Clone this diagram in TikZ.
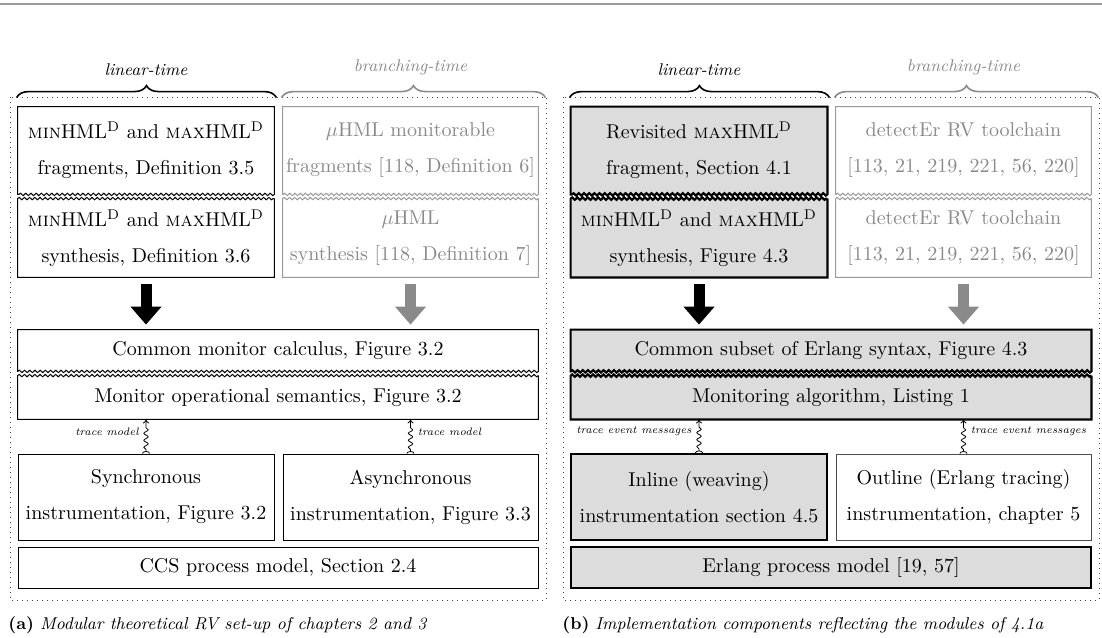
\documentclass[tikz,border=0pt]{standalone}
\usepackage{xcolor}
\usepackage{tikz}
\usetikzlibrary{positioning,arrows.meta,decorations.pathmorphing,decorations.pathreplacing,backgrounds}
\definecolor{RVGrey}{HTML}{8A8A8A}
\definecolor{RVLine}{HTML}{9A9A9A}
\definecolor{RVFill}{HTML}{DCDCDC}

\tikzset{
  mod/.style={align=center,inner sep=0pt,font=\fontsize{10}{18}\selectfont},
  wave/.style={decoration={snake,amplitude=0.6pt,segment length=2.6pt}},
  thinbox/.style={draw=black,line width=0.5pt,fill=white},
  greybox/.style={draw=RVLine,line width=0.5pt,fill=white},
  implbox/.style={draw=black,line width=1.1pt,fill=RVFill},
  greytext/.style={text=RVGrey},
  blockarr/.style={line width=5.5pt,-{Triangle[width=15pt,length=9pt]},shorten <=3.5pt,shorten >=2.5pt},
  squig/.style={decorate,decoration={snake,amplitude=1.1pt,segment length=3.5pt,pre length=2pt,post length=3pt},
    {Arc Barb[reversed,width=4pt,length=1.2pt]}-{To[length=2pt,width=3pt]},line width=0.4pt},
  lbl/.style={font=\fontsize{5.4}{6}\selectfont\itshape,inner sep=0pt},
  head/.style={font=\fontsize{8.5}{10}\selectfont\itshape,inner sep=0pt},
  topbrace/.style={decorate,decoration={brace,amplitude=6pt},line width=0.8pt},
  panelframe/.style={dotted,line width=0.5pt,draw=black!75},
  capt/.style={font=\fontsize{8.6}{10}\selectfont,inner sep=0pt,anchor=base west}
}

\begin{document}
\begin{tikzpicture}[x=0.5pt,y=-0.5pt]
\useasboundingbox (0,0) rectangle (1102,637);
\draw[RVLine,line width=0.8pt] (0,4) -- (1102,4);

% (a) theoretical set-up
\node[mod,minimum width=128pt,minimum height=43.5pt] (fragA) at (146,150.5) {\textsc{min}HML\textsuperscript{D} and \textsc{max}HML\textsuperscript{D}\\fragments, Definition 3.5};
\node[mod,greytext,minimum width=127.5pt,minimum height=43.5pt] (fragB) at (410.5,150.5) {$\mu$HML monitorable\\fragments [118, Definition 6]};
\node[mod,minimum width=128pt,minimum height=39pt] (synA) at (146,238) {\textsc{min}HML\textsuperscript{D} and \textsc{max}HML\textsuperscript{D}\\synthesis, Definition 3.6};
\node[mod,greytext,minimum width=127.5pt,minimum height=39pt] (synB) at (410.5,238) {$\mu$HML\\synthesis [118, Definition 7]};
\node[mod,minimum width=260pt,minimum height=20.5pt] (calc) at (278,350.5) {Common monitor calculus, Figure 3.2};
\node[mod,minimum width=260pt,minimum height=21.5pt] (sem) at (278,397.5) {Monitor operational semantics, Figure 3.2};
\node[mod,thinbox,minimum width=128pt,minimum height=43pt] (sync) at (146,497) {Synchronous\\instrumentation, Figure 3.2};
\node[mod,thinbox,minimum width=127.5pt,minimum height=43pt] (async) at (410.5,497) {Asynchronous\\instrumentation, Figure 3.3};
\node[mod,thinbox,minimum width=260pt,minimum height=20.5pt] (ccs) at (278,567.5) {CCS process model, Section 2.4};

\node[head,above=15.5pt of fragA.north] (linA) {linear-time};
\node[head,text=RVGrey,above=15.5pt of fragB.north] (brA) {branching-time};
\draw[topbrace] ([yshift=4.5pt,xshift=-0.5pt]fragA.north west) -- ([yshift=4.5pt,xshift=1pt]fragA.north east);
\draw[topbrace,RVGrey] ([yshift=4.5pt,xshift=-0.5pt]fragB.north west) -- ([yshift=4.5pt,xshift=3.5pt]fragB.north east);

\draw[blockarr] (synA.south) -- (synA.south |- calc.north);
\draw[blockarr,RVGrey] (synB.south) -- (synB.south |- calc.north);
\draw[squig] (sync.north) -- (sync.north |- sem.south) node[lbl,pos=0.65,left=3.5pt] {trace model};
\draw[squig] (async.north) -- (async.north |- sem.south) node[lbl,pos=0.65,right=3.5pt] {trace model};

\node[capt] (capA) at (8,629) {\textbf{(a)} \textit{Modular theoretical RV set-up of chapters 2 and 3}};

% (b) implementation
\node[mod,minimum width=128pt,minimum height=43.5pt] (revis) at (699,150.5) {Revisited \textsc{max}HML\textsuperscript{D}\\fragment, Section 4.1};
\node[mod,greytext,minimum width=127.5pt,minimum height=43.5pt] (toolA) at (963.5,150.5) {detectEr RV toolchain\\{}[113, 21, 219, 221, 56, 220]};
\node[mod,minimum width=128pt,minimum height=39pt] (synth) at (699,238) {\textsc{min}HML\textsuperscript{D} and \textsc{max}HML\textsuperscript{D}\\synthesis, Figure 4.3};
\node[mod,greytext,minimum width=127.5pt,minimum height=39pt] (toolB) at (963.5,238) {detectEr RV toolchain\\{}[113, 21, 219, 221, 56, 220]};
\node[mod,minimum width=260pt,minimum height=20.5pt] (subset) at (831,350.5) {Common subset of Erlang syntax, Figure 4.3};
\node[mod,minimum width=260pt,minimum height=21.5pt] (algo) at (831,397.5) {Monitoring algorithm, Listing 1};
\node[mod,implbox,minimum width=128pt,minimum height=43pt] (inline) at (699,497) {Inline (weaving)\\instrumentation section 4.5};
\node[mod,thinbox,draw=black!70,minimum width=127.5pt,minimum height=43pt] (outline) at (963.5,497) {Outline (Erlang tracing)\\instrumentation, chapter 5};
\node[mod,implbox,minimum width=260pt,minimum height=20.5pt] (erl) at (831,567.5) {Erlang process model [19, 57]};

\node[head,above=15.5pt of revis.north] (linB) {linear-time};
\node[head,text=RVGrey,above=15.5pt of toolA.north] (brB) {branching-time};
\draw[topbrace] ([yshift=4.5pt,xshift=-0.5pt]revis.north west) -- ([yshift=4.5pt,xshift=1pt]revis.north east);
\draw[topbrace,RVGrey] ([yshift=4.5pt,xshift=-0.5pt]toolA.north west) -- ([yshift=4.5pt,xshift=3.5pt]toolA.north east);

\draw[blockarr] (synth.south) -- (synth.south |- subset.north);
\draw[blockarr,RVGrey] (toolB.south) -- (toolB.south |- subset.north);
\draw[squig] (inline.north) -- (inline.north |- algo.south) node[lbl,pos=0.65,left=3.5pt] {trace event messages};
\draw[squig] (outline.north) -- (outline.north |- algo.south) node[lbl,pos=0.65,right=3.5pt] {trace event messages};

\node[capt] (capB) at (562,629) {\textbf{(b)} \textit{Implementation components reflecting the modules of 4.1a}};

% frames and wavy-edged boxes
\begin{scope}[on background layer]
\draw[panelframe] (10,97) rectangle (546,600);
\draw[panelframe] (563,97) rectangle (1099,600);
\foreach \n/\s in {fragA/thinbox,fragB/greybox,calc/thinbox,revis/implbox,toolA/greybox,subset/implbox}
  \path[\s] (\n.south west) -- (\n.north west) -- (\n.north east) -- (\n.south east) decorate[wave]{-- (\n.south west)} -- cycle;
\foreach \n/\s in {synA/thinbox,synB/greybox,sem/thinbox,synth/implbox,toolB/greybox,algo/implbox}
  \path[\s] (\n.north east) -- (\n.south east) -- (\n.south west) -- (\n.north west) decorate[wave]{-- (\n.north east)} -- cycle;
\end{scope}
\end{tikzpicture}
\end{document}
